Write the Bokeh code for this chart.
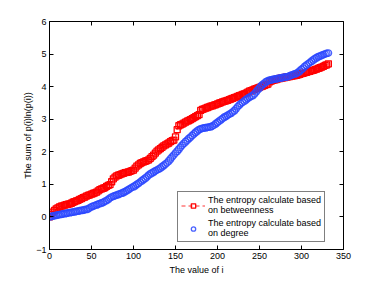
from bokeh.plotting import figure
from bokeh.models import Range1d, LinearAxis, Legend, LegendItem, FixedTicker, CustomJSTickFormatter
from bokeh.embed import file_html
from bokeh.resources import INLINE

# index values (every second i)
idx = list(range(0, 333, 2))

betweenness = [
    0.00, 0.08, 0.15, 0.20, 0.25, 0.28, 0.31, 0.33, 0.34, 0.36,
    0.38, 0.39, 0.40, 0.42, 0.45, 0.47, 0.49, 0.51, 0.54, 0.56,
    0.59, 0.61, 0.64, 0.66, 0.68, 0.70, 0.72, 0.74, 0.76, 0.80,
    0.84, 0.86, 0.88, 0.90, 0.94, 0.97, 0.99, 1.08, 1.17, 1.22,
    1.26, 1.28, 1.30, 1.32, 1.34, 1.36, 1.37, 1.38, 1.40, 1.42,
    1.44, 1.50, 1.56, 1.60, 1.64, 1.67, 1.69, 1.71, 1.73, 1.75,
    1.80, 1.85, 1.90, 1.96, 2.02, 2.06, 2.10, 2.14, 2.18, 2.21,
    2.24, 2.27, 2.31, 2.34, 2.36, 2.46, 2.68, 2.80, 2.83, 2.85,
    2.88, 2.91, 2.94, 2.96, 2.99, 3.02, 3.05, 3.08, 3.11, 3.14,
    3.27, 3.30, 3.32, 3.34, 3.36, 3.38, 3.40, 3.41, 3.43, 3.45,
    3.47, 3.49, 3.51, 3.53, 3.55, 3.56, 3.58, 3.60, 3.62, 3.64,
    3.66, 3.68, 3.70, 3.72, 3.74, 3.76, 3.78, 3.80, 3.83, 3.86,
    3.88, 3.90, 3.92, 3.94, 3.96, 3.98, 4.00, 4.02, 4.04, 4.06,
    4.08, 4.15, 4.17, 4.19, 4.21, 4.22, 4.24, 4.25, 4.26, 4.27,
    4.28, 4.29, 4.30, 4.31, 4.32, 4.33, 4.34, 4.35, 4.36, 4.38,
    4.40, 4.41, 4.43, 4.44, 4.46, 4.47, 4.49, 4.50, 4.52, 4.54,
    4.56, 4.58, 4.60, 4.62, 4.65, 4.67, 4.70,
]

degree = [
    0.00, 0.01, 0.03, 0.04, 0.05, 0.06, 0.07, 0.08, 0.09, 0.10,
    0.11, 0.12, 0.13, 0.14, 0.15, 0.16, 0.17, 0.18, 0.19, 0.20,
    0.21, 0.22, 0.23, 0.25, 0.28, 0.31, 0.33, 0.35, 0.37, 0.39,
    0.41, 0.43, 0.45, 0.48, 0.50, 0.54, 0.58, 0.61, 0.63, 0.65,
    0.67, 0.69, 0.71, 0.73, 0.75, 0.78, 0.81, 0.84, 0.87, 0.90,
    0.93, 0.96, 1.00, 1.03, 1.07, 1.11, 1.15, 1.19, 1.23, 1.28,
    1.32, 1.35, 1.38, 1.41, 1.44, 1.47, 1.50, 1.54, 1.58, 1.62,
    1.66, 1.72, 1.78, 1.84, 1.90, 1.96, 2.02, 2.08, 2.14, 2.20,
    2.26, 2.31, 2.36, 2.41, 2.45, 2.50, 2.55, 2.60, 2.64, 2.68,
    2.70, 2.72, 2.73, 2.74, 2.75, 2.76, 2.77, 2.79, 2.82, 2.86,
    2.90, 2.94, 2.98, 3.02, 3.06, 3.09, 3.12, 3.15, 3.18, 3.22,
    3.26, 3.32, 3.38, 3.43, 3.48, 3.52, 3.56, 3.60, 3.64, 3.67,
    3.70, 3.73, 3.78, 3.84, 3.90, 3.96, 4.02, 4.07, 4.11, 4.15,
    4.18, 4.20, 4.21, 4.22, 4.23, 4.24, 4.25, 4.26, 4.27, 4.28,
    4.29, 4.30, 4.31, 4.33, 4.35, 4.37, 4.39, 4.41, 4.44, 4.48,
    4.53, 4.57, 4.62, 4.66, 4.70, 4.74, 4.78, 4.82, 4.86, 4.89,
    4.92, 4.94, 4.96, 4.98, 5.00, 5.02, 5.03,
]

x_ticks = [0, 50, 100, 150, 200, 250, 300, 350]
y_ticks = [-1, 0, 1, 2, 3, 4, 5, 6]

FONT = "Liberation Sans"

p = figure(width=371, height=277, output_backend="svg", toolbar_location=None,
           x_range=Range1d(0, 350), y_range=Range1d(-1, 6),
           min_border_left=49, min_border_right=28, min_border_top=21, min_border_bottom=24)
p.grid.visible = False
p.outline_line_color = None
p.background_fill_color = "white"
p.border_fill_color = "white"

def style_axis(ax, labels=True):
    ax.axis_line_color = "black"
    ax.axis_line_width = 1
    ax.major_tick_in = 4
    ax.major_tick_out = 0
    ax.major_tick_line_color = "black"
    ax.minor_tick_line_color = None
    ax.major_label_text_font = FONT
    ax.major_label_text_font_size = "9px"
    ax.major_label_text_color = "black"
    ax.major_label_standoff = 3 if labels else 0
    ax.axis_label_text_font = FONT
    ax.axis_label_text_font_size = "9px"
    ax.axis_label_text_font_style = "normal"
    ax.axis_label_text_color = "black"
    if not labels:
        ax.formatter = CustomJSTickFormatter(code="return ''")

p.xaxis.ticker = FixedTicker(ticks=x_ticks)
p.yaxis.ticker = FixedTicker(ticks=y_ticks)
for ax in p.xaxis + p.yaxis:
    style_axis(ax)
p.xaxis.axis_label = "The value of i"
p.xaxis.axis_label_standoff = 3
p.yaxis.axis_label = "The sum of p(i)ln(p(i))"
p.yaxis.axis_label_standoff = 0

top = LinearAxis(ticker=FixedTicker(ticks=x_ticks))
right = LinearAxis(ticker=FixedTicker(ticks=y_ticks))
style_axis(top, labels=False)
style_axis(right, labels=False)
p.add_layout(top, "above")
p.add_layout(right, "right")

red_line = p.line(idx, betweenness, line_color="red", line_width=0.8, line_dash="4 3")
red_pts = p.scatter(idx, betweenness, marker="square", size=6, line_color="red",
                    fill_color=None, line_width=1.3)
blue_pts = p.scatter(idx, degree, marker="circle", size=6.5, line_color="#2a46ff",
                     fill_color=None, line_width=1.3, line_alpha=0.85)

legend = Legend(items=[
    LegendItem(label="The entropy calculate based\non betweenness", renderers=[red_line, red_pts]),
    LegendItem(label="The entropy calculate based\non degree", renderers=[blue_pts]),
], location=(128, 7))
legend.label_text_font = FONT
legend.label_text_font_size = "9px"
legend.label_text_color = "black"
legend.label_text_line_height = 1.0
legend.border_line_color = "black"
legend.border_line_width = 1
legend.background_fill_alpha = 1
legend.padding = 3
legend.spacing = 3
legend.margin = 0
legend.glyph_width = 24
legend.glyph_height = 11
legend.label_standoff = 3
legend.label_height = 18
p.add_layout(legend, "center")

open("out.html", "w").write(file_html(p, INLINE))
